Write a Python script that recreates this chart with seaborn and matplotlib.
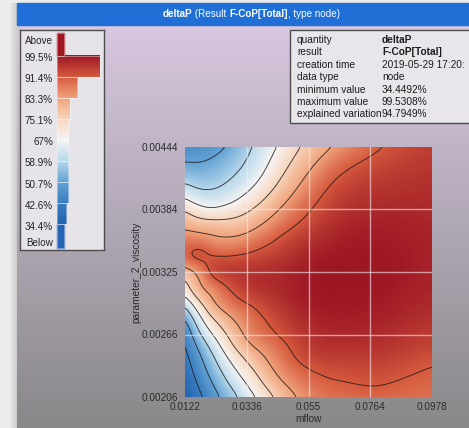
import numpy as np
import matplotlib
matplotlib.use("Agg")
import matplotlib.pyplot as plt
import matplotlib.tri as mtri
from matplotlib.colors import Normalize
from matplotlib.patches import Rectangle
import seaborn as sns

# ---------------- data ----------------
mflow = [0.0122, 0.01755, 0.0229, 0.0336, 0.0443, 0.055, 0.0657, 0.0764, 0.0871, 0.0978]
viscosity = [0.00206, 0.0023575, 0.00250625, 0.002655, 0.00280375, 0.0029525,
             0.00310125, 0.00325, 0.00339875, 0.0035475, 0.00369625, 0.003845,
             0.0041425, 0.00444]
# deltaP in % (rows follow viscosity, columns follow mflow)
deltaP_pct = [
    [34.5, 41.5, 48.9, 62.9, 76.6, 86.0, 89.0, 90.0, 89.5, 89.0],
    [39.0, 48.1, 57.4, 73.6, 85.6, 92.0, 93.5, 94.0, 93.0, 91.5],
    [41.3, 52.1, 62.5, 79.6, 88.4, 94.5, 95.6, 95.7, 94.8, 93.5],
    [43.8, 58.5, 69.0, 84.6, 91.5, 96.0, 97.2, 97.0, 96.0, 95.0],
    [50.7, 65.7, 76.4, 87.5, 93.6, 97.4, 98.3, 98.1, 97.2, 96.1],
    [61.3, 74.4, 83.5, 91.4, 95.8, 98.5, 99.0, 98.8, 98.0, 97.0],
    [71.5, 82.2, 87.9, 95.0, 97.0, 99.0, 99.4, 99.3, 98.5, 97.5],
    [79.5, 86.5, 93.5, 95.8, 97.0, 98.8, 99.4, 99.4, 98.8, 97.8],
    [89.5, 92.5, 91.6, 92.5, 95.0, 97.8, 99.0, 99.2, 98.8, 98.0],
    [87.8, 87.5, 85.1, 86.5, 92.0, 96.0, 98.2, 98.8, 98.5, 97.8],
    [81.6, 79.3, 78.5, 80.2, 87.6, 93.5, 97.0, 98.0, 98.0, 97.5],
    [74.2, 69.3, 68.2, 73.7, 82.9, 90.8, 95.5, 97.0, 97.3, 97.0],
    [56.6, 55.1, 56.2, 62.7, 73.8, 84.7, 91.8, 94.5, 95.5, 96.0],
    [46.0, 47.2, 48.5, 57.1, 67.3, 77.5, 84.8, 89.8, 93.0, 94.5],
]
contour_levels = [42.6, 50.7, 58.9, 67.0, 75.1, 83.3, 91.4]
scale_bounds = [99.5, 91.4, 83.3, 75.1, 67.0, 58.9, 50.7, 42.6, 34.4]
scale_labels = ["99.5%", "91.4%", "83.3%", "75.1%", "67%", "58.9%", "50.7%", "42.6%", "34.4%"]
# share of the field per colour bin: Above, 8 bins from 99.5 down to 34.4, Below
bin_share = [0.17, 1.0, 0.47, 0.30, 0.26, 0.26, 0.26, 0.26, 0.22, 0.17]
xtick_labels = ["0.0122", "0.0336", "0.055", "0.0764", "0.0978"]
ytick_labels = ["0.00206", "0.00266", "0.00325", "0.00384", "0.00444"]
info_keys = ["quantity", "result", "creation time", "data type",
             "minimum value", "maximum value", "explained variation"]
info_vals = ["deltaP", "F-CoP[Total]", "2019-05-29 17:20:", "node",
             "34.4492%", "99.5308%", "94.7949%"]
info_bold = [True, True, False, False, False, False, False]

# ---------------- style ----------------
sns.set_theme(style="white")
plt.rcParams['font.family'] = ['Liberation Sans', 'DejaVu Sans']

W, H = 469, 428
fig = plt.figure(figsize=(W / 100, H / 100), dpi=100)


def box(x0, y0, x1, y1):
    """pixel rectangle (top-left origin) -> figure fraction"""
    return [x0 / W, 1 - y1 / H, (x1 - x0) / W, (y1 - y0) / H]


cmap = sns.blend_palette(["#2363b1", "#3b7ec0", "#64a3d4", "#b9d9ec", "#f6f5f4",
                          "#f8d4bb", "#f0a47c", "#d65a3e", "#9c1624"],
                         n_colors=256, as_cmap=True)
norm = Normalize(34.4, 99.5)
over_col, under_col = "#a0141f", "#2563b3"

# ---------------- window background ----------------
bg = fig.add_axes([0, 0, 1, 1], zorder=0)
bg.axis('off')
bg.add_patch(Rectangle((0, 0), W, H, color="#ececec", zorder=0))
top_c = np.array([0xd7, 0xc7, 0xdf]) / 255
bot_c = np.array([0x89, 0x88, 0x8a]) / 255
t = np.linspace(0, 1, 256)[:, None, None]
grad = top_c * (1 - t) + bot_c * t
bg.imshow(np.repeat(grad, 2, axis=1), extent=[17, W, H, 25], aspect='auto',
          origin='upper', zorder=1)
shadow = np.linspace(0, 1, 32)[None, :, None]
sh = np.array([0.93, 0.93, 0.93]) * (1 - shadow) + np.array([0.80, 0.80, 0.80]) * shadow
bg.imshow(sh, extent=[9, 17, H, 3], aspect='auto', origin='upper', zorder=1)
bg.add_patch(Rectangle((17, 3), W - 17, 22, color="#1f6fd7", zorder=2))
bg.set_xlim(0, W); bg.set_ylim(H, 0)

# ---------------- field ----------------
x0, x1 = mflow[0], mflow[-1]
y0, y1 = viscosity[0], viscosity[-1]
U, V = np.meshgrid((np.array(mflow) - x0) / (x1 - x0),
                   (np.array(viscosity) - y0) / (y1 - y0))
nx, ny = len(mflow), len(viscosity)
idx = np.arange(nx * ny).reshape(ny, nx)
tris = []
for j in range(ny - 1):
    for i in range(nx - 1):
        a, b, c, d = idx[j, i], idx[j, i + 1], idx[j + 1, i], idx[j + 1, i + 1]
        tris += [[a, b, d], [a, d, c]]
tri = mtri.Triangulation(U.ravel(), V.ravel(), np.array(tris))
interp = mtri.CubicTriInterpolator(tri, np.array(deltaP_pct).ravel(), kind='min_E')
n = 320
g = np.clip(np.linspace(0, 1, n), 1e-9, 1 - 1e-9)
UF, VF = np.meshgrid(g, g)
ZF = np.ma.filled(interp(UF, VF), np.nan)

# light smoothing of the rendered surface
sig = 4.0
kx = np.arange(-12, 13)
kern = np.exp(-0.5 * (kx / sig) ** 2)
kern /= kern.sum()
P = np.pad(ZF, 12, mode='edge')
P = np.apply_along_axis(lambda r: np.convolve(r, kern, mode='same'), 1, P)
P = np.apply_along_axis(lambda c: np.convolve(c, kern, mode='same'), 0, P)
ZF = P[12:-12, 12:-12]

XF = x0 + UF * (x1 - x0)
YF = y0 + VF * (y1 - y0)

ax = fig.add_axes(box(185, 147, 432, 397), zorder=2)
ax.imshow(ZF, extent=[x0, x1, y0, y1], origin='lower', aspect='auto',
          cmap=cmap, norm=norm, interpolation='bilinear')
ax.contour(XF, YF, ZF, levels=contour_levels, colors='#1e1818',
           linewidths=0.7, alpha=0.8)
xt = np.linspace(x0, x1, 5)
yt = np.linspace(y0, y1, 5)
for v in xt[1:-1]:
    ax.axvline(v, color='#f2eef2', alpha=0.6, lw=1)
for v in yt[1:-1]:
    ax.axhline(v, color='#f2eef2', alpha=0.6, lw=1)
ax.set_xticks(xt, xtick_labels)
ax.set_yticks(yt, ytick_labels)
ax.set_xlim(x0, x1); ax.set_ylim(y0, y1)
ax.tick_params(axis='both', length=0, labelsize=7.2, colors='#2b2b2b')
ax.tick_params(axis='x', pad=3.6)
ax.tick_params(axis='y', pad=5)
for s in ax.spines.values():
    s.set_visible(False)
ax.set_xlabel('mflow', fontsize=7.3, color='#2b2b2b')
ax.xaxis.set_label_coords(0.5, -0.07)
ax.set_ylabel('parameter_2_viscosity', fontsize=7.3, color='#2b2b2b')
ax.yaxis.set_label_coords(-0.176, 0.5)

# ---------------- colour scale with distribution ----------------
lax = fig.add_axes(box(20, 30, 104, 250), zorder=3)
lax.set_facecolor('#e6e4e9')
for s in lax.spines.values():
    s.set_color('#4d4d4d'); s.set_linewidth(1)
lax.set_xticks([]); lax.set_yticks([])
step = 21.1
first = 25.5
bounds_px = [first + step * k for k in range(len(scale_bounds))]
tops = [3] + bounds_px[:-1] + [bounds_px[-1]]
bots = [first] + bounds_px[1:] + [218]
heights = [b - t for t, b in zip(tops, bots)]
centers = [(t + b) / 2 for t, b in zip(tops, bots)]
bar_left, bar_max = 37, 43
bars = lax.barh(centers, [s * bar_max for s in bin_share], height=heights,
                left=bar_left, color='none', edgecolor=(1, 1, 1, 0.45), lw=0.6, zorder=3)
for k, bar in enumerate(bars):
    x_l, w = bar.get_x(), bar.get_width()
    y_t, y_b = tops[k], bots[k]
    if k == 0:
        lax.add_patch(Rectangle((x_l, y_t), w, y_b - y_t, color=over_col, zorder=2))
        continue
    if k == len(bars) - 1:
        lax.add_patch(Rectangle((x_l, y_t), w, y_b - y_t, color=under_col, zorder=2))
        continue
    hi, lo = scale_bounds[k - 1], scale_bounds[k]
    lax.imshow(np.linspace(hi, lo, 64)[:, None], extent=[x_l, x_l + w, y_b, y_t],
               origin='upper', aspect='auto', cmap=cmap, norm=norm, zorder=2)
lax.set_xlim(0, 84); lax.set_ylim(220, 0)
lab_kw = dict(ha='right', va='center', fontsize=7.1, color='#222222')
lax.text(33, 11, "Above", **lab_kw)
for yb, lab in zip(bounds_px, scale_labels):
    lax.text(33, yb + 2.5, lab, **lab_kw)
lax.text(33, 213, "Below", **lab_kw)

# ---------------- title bar and info panel ----------------
ov = fig.add_axes([0, 0, 1, 1], zorder=5)
ov.set_xlim(0, W); ov.set_ylim(H, 0); ov.axis('off')
ov.patch.set_alpha(0)
renderer = fig.canvas.get_renderer()
pieces = [("deltaP", 'bold'), (" (Result ", 'normal'),
          ("F-CoP[Total]", 'bold'), (", type node)", 'normal')]
tt = [ov.text(0, 14, s, color='white', fontsize=7.1, fontweight=wt,
              ha='left', va='center') for s, wt in pieces]
widths = [t_.get_window_extent(renderer).width for t_ in tt]
xpos = 251 - sum(widths) / 2
for t_, w_ in zip(tt, widths):
    t_.set_x(xpos); xpos += w_

ov.add_patch(Rectangle((290, 30), 200, 93, facecolor='#e8e6eb',
                       edgecolor='#4d4d4d', lw=1, clip_on=True))
for r, (k, v, b) in enumerate(zip(info_keys, info_vals, info_bold)):
    yy = 40 + 12.4 * r
    ov.text(297, yy, k, fontsize=7.3, color='#1c1c1c', ha='left', va='center')
    ov.text(382, yy, v, fontsize=7.3, color='#1c1c1c', ha='left', va='center',
            fontweight='bold' if b else 'normal')

fig.savefig("out.png", dpi=100)
